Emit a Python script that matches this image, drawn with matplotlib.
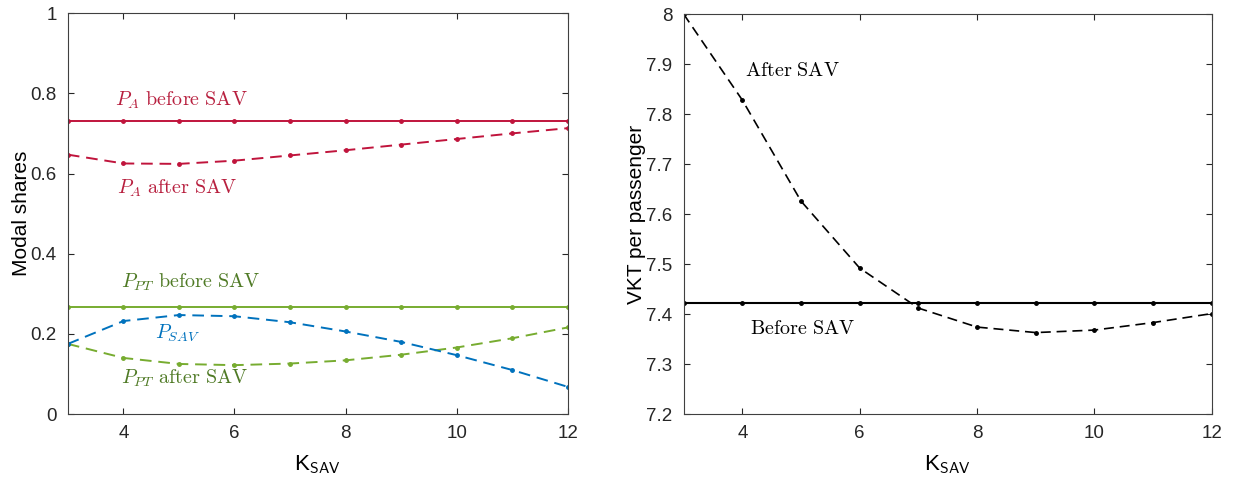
import matplotlib
matplotlib.use("Agg")
import matplotlib.pyplot as plt

plt.rcParams["font.family"] = ["Liberation Sans", "DejaVu Sans"]
plt.rcParams["mathtext.fontset"] = "cm"

k_sav = [3, 4, 5, 6, 7, 8, 9, 10, 11, 12]

pa_before = [0.73] * 10
pa_after = [0.647, 0.625, 0.624, 0.632, 0.645, 0.658, 0.672, 0.686, 0.700, 0.713]
ppt_before = [0.268] * 10
ppt_after = [0.175, 0.140, 0.125, 0.122, 0.126, 0.134, 0.148, 0.166, 0.189, 0.216]
p_sav = [0.175, 0.232, 0.247, 0.244, 0.229, 0.206, 0.180, 0.147, 0.110, 0.068]

vkt_before = [7.422] * 10
vkt_after = [8.0, 7.828, 7.626, 7.492, 7.412, 7.374, 7.363, 7.368, 7.383, 7.401]

red = "#c0143c"
green = "#77ac30"
blue = "#0072bd"
dash = (6, 3.5)

fig = plt.figure(figsize=(12.34, 4.86), dpi=100)
ax1 = fig.add_axes([0.055, 0.148, 0.405, 0.825])
ax2 = fig.add_axes([0.554, 0.148, 0.428, 0.823])

# left panel: modal shares
ax1.plot(k_sav, pa_before, "-", color=red, lw=1.4, marker=".", ms=5)
ax1.plot(k_sav, pa_after, "--", color=red, lw=1.4, marker=".", ms=5, dashes=dash)
ax1.plot(k_sav, ppt_before, "-", color=green, lw=1.4, marker=".", ms=5)
ax1.plot(k_sav, ppt_after, "--", color=green, lw=1.4, marker=".", ms=5, dashes=dash)
ax1.plot(k_sav, p_sav, "--", color=blue, lw=1.4, marker=".", ms=5, dashes=dash)

ax1.text(3.84, 0.783, r"$P_A\ \mathrm{before\ SAV}$", color="#b8203f", fontsize=14.5, va="center")
ax1.text(3.88, 0.563, r"$P_A\ \mathrm{after\ SAV}$", color="#b8203f", fontsize=14.5, va="center")
ax1.text(3.95, 0.328, r"$P_{PT}\ \mathrm{before\ SAV}$", color="#4f7a25", fontsize=14.5, va="center")
ax1.text(4.57, 0.202, r"$P_{SAV}$", color=blue, fontsize=14.5, va="center")
ax1.text(3.95, 0.09, r"$P_{PT}\ \mathrm{after\ SAV}$", color="#4f7a25", fontsize=14.5, va="center")

ax1.set_xlim(3, 12)
ax1.set_ylim(0, 1)
ax1.set_xticks([4, 6, 8, 10, 12])
ax1.set_yticks([0, 0.2, 0.4, 0.6, 0.8, 1])
ax1.set_yticklabels(["0", "0.2", "0.4", "0.6", "0.8", "1"])
ax1.set_xlabel(r"K$_{\mathsf{SAV}}$", fontsize=16, labelpad=8)
ax1.set_ylabel("Modal shares", fontsize=15, labelpad=0)

# right panel: VKT per passenger
ax2.plot(k_sav, vkt_before, "-", color="k", lw=1.5, marker=".", ms=5)
ax2.plot(k_sav, vkt_after, "--", color="k", lw=1.2, marker=".", ms=5, dashes=dash)

ax2.text(4.05, 7.887, r"$\mathrm{After\ SAV}$", color="k", fontsize=14.5, va="center")
ax2.text(4.13, 7.372, r"$\mathrm{Before\ SAV}$", color="k", fontsize=14.5, va="center")

ax2.set_xlim(3, 12)
ax2.set_ylim(7.2, 8)
ax2.set_xticks([4, 6, 8, 10, 12])
ax2.set_yticks([7.2, 7.3, 7.4, 7.5, 7.6, 7.7, 7.8, 7.9, 8])
ax2.set_yticklabels(["7.2", "7.3", "7.4", "7.5", "7.6", "7.7", "7.8", "7.9", "8"])
ax2.set_xlabel(r"K$_{\mathsf{SAV}}$", fontsize=16, labelpad=8)
ax2.set_ylabel("VKT per passenger", fontsize=15, labelpad=0)

for ax in (ax1, ax2):
    ax.tick_params(direction="in", top=True, right=True, labelsize=13.5, colors="#262626", length=4, pad=8)
    for s in ax.spines.values():
        s.set_color("#404040")
        s.set_linewidth(0.8)

fig.savefig("out.png", dpi=100)
